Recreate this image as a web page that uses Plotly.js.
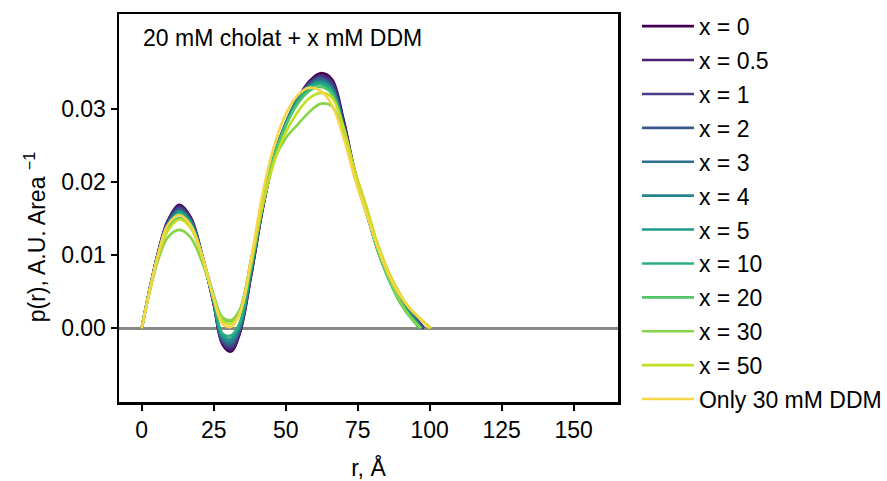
<!DOCTYPE html>
<html>
<head>
<meta charset="utf-8">
<script src="https://cdn.plot.ly/plotly-3.0.1.min.js"></script>
<style>html,body{margin:0;padding:0;background:#fff;}#chart{width:887px;height:481px;}</style>
</head>
<body>
<div id="chart"></div>
<script>
// r grid (Å) shared by all series; each series ends at its own Dmax where p(r)=0
const rGrid = [0, 3, 6, 9, 13, 17, 21, 25, 28, 31, 34, 38, 42, 46, 50, 54, 58, 62, 66, 70, 74, 78, 82, 86, 90, 93];

const seriesNames = ["x = 0", "x = 0.5", "x = 1", "x = 2", "x = 3", "x = 4", "x = 5", "x = 10", "x = 20", "x = 30", "x = 50", "Only 30 mM DDM"];
const seriesColors = ["#440154", "#482173", "#433e85", "#38588c", "#2d708e", "#25858e", "#1e9b8a", "#2ab07f", "#52c569", "#86d549", "#c2df23", "#f8d447"];
const dmax = [98, 98, 98, 97.5, 97.5, 97, 97, 96.5, 96.5, 97, 100.5, 100];

const p_x0   = [0, .0058, .0109, .0147, .0169, .0152, .0100, .0033, -.0022, -.0032, -.0008, .0072, .0163, .0234, .0279, .0313, .0337, .0349, .0341, .0287, .0215, .0163, .0110, .0070, .0040, .0024];
const p_x05  = [0, .0058, .0108, .0146, .0167, .0150, .0099, .0033, -.0020, -.0029, -.0006, .0073, .0163, .0233, .0278, .0312, .0335, .0346, .0338, .0285, .0214, .0163, .0110, .0070, .0040, .0024];
const p_x1   = [0, .0058, .0108, .0145, .0165, .0149, .0099, .0034, -.0018, -.0026, -.0004, .0075, .0165, .0234, .0279, .0312, .0334, .0344, .0335, .0282, .0212, .0162, .0110, .0070, .0040, .0024];
const p_x2   = [0, .0058, .0107, .0144, .0163, .0148, .0099, .0035, -.0016, -.0023, -.0002, .0078, .0168, .0237, .0281, .0313, .0334, .0342, .0331, .0278, .0209, .0160, .0108, .0069, .0039, .0023];
const p_x3   = [0, .0057, .0106, .0142, .0161, .0146, .0098, .0035, -.0014, -.0020, .0000, .0079, .0168, .0236, .0280, .0312, .0332, .0340, .0330, .0277, .0208, .0159, .0107, .0068, .0038, .0022];
const p_x4   = [0, .0057, .0106, .0141, .0160, .0145, .0098, .0036, -.0012, -.0017, .0002, .0080, .0168, .0235, .0279, .0311, .0330, .0338, .0328, .0276, .0208, .0158, .0106, .0067, .0037, .0021];
const p_x5   = [0, .0057, .0105, .0140, .0159, .0144, .0098, .0037, -.0010, -.0014, .0004, .0081, .0168, .0234, .0278, .0310, .0329, .0336, .0326, .0275, .0208, .0158, .0106, .0066, .0036, .0020];
const p_x10  = [0, .0057, .0105, .0139, .0157, .0143, .0098, .0038, -.0007, -.0010, .0007, .0083, .0168, .0233, .0277, .0309, .0328, .0334, .0324, .0275, .0209, .0159, .0106, .0065, .0034, .0018];
const p_x20  = [0, .0056, .0103, .0135, .0151, .0139, .0099, .0045, .0014, .0010, .0024, .0095, .0175, .0236, .0277, .0306, .0324, .0330, .0321, .0275, .0211, .0160, .0107, .0065, .0033, .0016];
const p_x30  = [0, .0054, .0097, .0124, .01345, .0124, .0090, .0043, .0015, .0011, .0025, .0093, .0170, .0230, .0260, .0278, .0295, .0307, .0304, .0266, .0208, .0160, .0108, .0067, .0035, .0017];
const p_x50  = [0, .0055, .0102, .0133, .0149, .0137, .0097, .0042, .0010, .0006, .0020, .0088, .0168, .0228, .0268, .0295, .0314, .0322, .0316, .0276, .0216, .0167, .0115, .0075, .0045, .0028];
const p_ddm  = [0, .0057, .0106, .0141, .0155, .0141, .0099, .0040, .0006, .0002, .0019, .0095, .0185, .0250, .0293, .0318, .0329, .0325, .0306, .0262, .0205, .0157, .0110, .0072, .0043, .0027];

const seriesValues = [p_x0, p_x05, p_x1, p_x2, p_x3, p_x4, p_x5, p_x10, p_x20, p_x30, p_x50, p_ddm];

const xTicks = [0, 25, 50, 75, 100, 125, 150];
const yTicks = [0, 0.01, 0.02, 0.03];

const FONT = "Liberation Sans, Arial, sans-serif";
const FS = 23;

const traces = seriesValues.map((vals, i) => ({
  type: "scatter",
  mode: "lines",
  name: seriesNames[i],
  legendgroup: "g" + i,
  x: rGrid.concat([dmax[i]]),
  y: vals.concat([0]),
  line: {color: seriesColors[i], width: 2.6, shape: "spline", smoothing: 1},
  hoverinfo: "skip"
}));

const layout = {
  width: 887,
  height: 481,
  margin: {l: 119, r: 269, t: 14, b: 79, pad: 0, autoexpand: false},
  paper_bgcolor: "#ffffff",
  plot_bgcolor: "#ffffff",
  font: {family: FONT, size: FS, color: "#000000"},
  showlegend: true,
  legend: {
    x: 1.038, y: 1.024, xanchor: "left", yanchor: "top",
    font: {family: FONT, size: FS, color: "#000000"},
    bgcolor: "rgba(0,0,0,0)", borderwidth: 0,
    tracegroupgap: 1, itemwidth: 52, traceorder: "grouped",
    maxheight: 479
  },
  xaxis: {
    range: [-7.9, 165.4],
    tickvals: xTicks,
    ticktext: xTicks.map(String),
    ticks: "outside", ticklen: 6, tickwidth: 2, tickcolor: "#000",
    showline: true, linecolor: "#000", linewidth: 2.5, mirror: true,
    showgrid: false, zeroline: false,
    tickfont: {family: FONT, size: FS, color: "#000"},
    title: {text: "r, Å", font: {family: FONT, size: FS, color: "#000"}, standoff: 24},
    automargin: false
  },
  yaxis: {
    range: [-0.0101, 0.0430],
    tickvals: yTicks,
    ticktext: yTicks.map(v => v.toFixed(2)),
    ticks: "outside", ticklen: 6, tickwidth: 2, tickcolor: "#000",
    showline: true, linecolor: "#000", linewidth: 2.5, mirror: true,
    showgrid: false,
    zeroline: true, zerolinecolor: "#888888", zerolinewidth: 3,
    tickfont: {family: FONT, size: FS, color: "#000"},
    automargin: false
  },
  annotations: [
    {
      text: "p(r), A.U. Area <sup>−1</sup>",
      xref: "paper", yref: "paper",
      x: -0.168, y: 0.425, xanchor: "center", yanchor: "middle",
      textangle: -90, showarrow: false,
      font: {family: FONT, size: FS, color: "#000"}
    },
    {
      text: "20 mM cholat + x mM DDM",
      xref: "paper", yref: "paper",
      x: 0.045, y: 0.937, xanchor: "left", yanchor: "middle",
      showarrow: false,
      font: {family: FONT, size: FS, color: "#000"}
    }
  ]
};

Plotly.newPlot("chart", traces, layout, {displayModeBar: false, staticPlot: true});
</script>
</body>
</html>
